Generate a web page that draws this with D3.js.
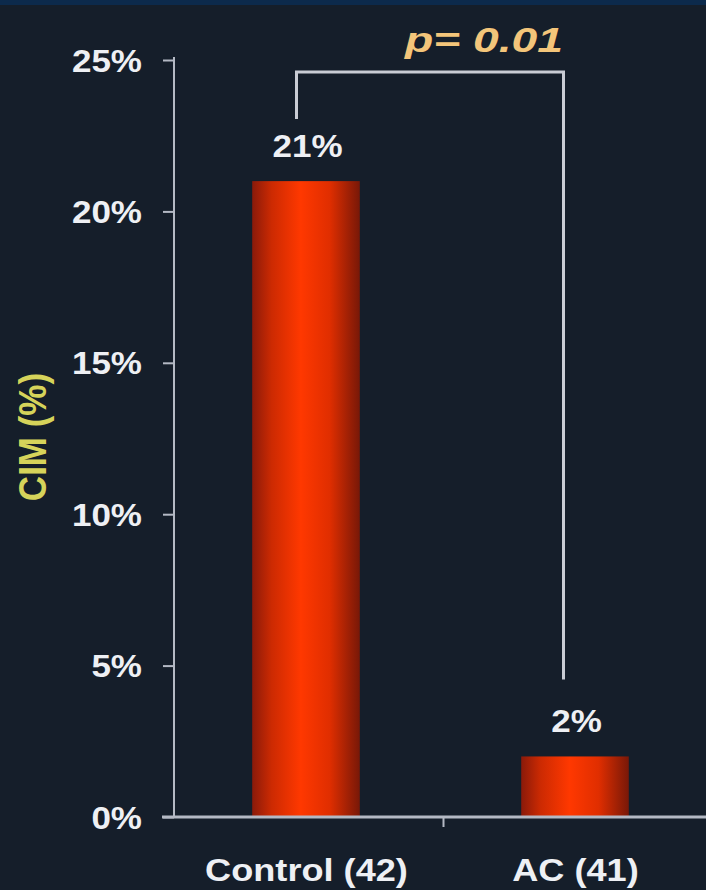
<!DOCTYPE html>
<html>
<head>
<meta charset="utf-8">
<script src="https://cdn.jsdelivr.net/npm/d3@7"></script>
<style>
  html, body { margin: 0; padding: 0; background: #151e2a; }
  svg { display: block; }
</style>
</head>
<body>
<svg id="chart" width="706" height="890"></svg>
<script>
// Chart data
const categories = ["Control (42)", "AC (41)"];
const values = [21, 2];
const valueLabels = ["21%", "2%"];
const yTicks = [0, 5, 10, 15, 20, 25];
const yTickLabels = ["0%", "5%", "10%", "15%", "20%", "25%"];
const pLabel = "p= 0.01";
const yTitle = "CIM (%)";

const W = 706, H = 890;
const SX = 1.13; // wide lettering
const svg = d3.select("#chart");

// background
svg.append("rect").attr("width", W).attr("height", H).attr("fill", "#151e2a");
svg.append("rect").attr("width", W).attr("height", 5).attr("fill", "#0c2a4c");

const defs = svg.append("defs");
const grad = defs.append("linearGradient").attr("id", "barGrad")
  .attr("x1", "0%").attr("x2", "100%").attr("y1", "0%").attr("y2", "0%");
grad.append("stop").attr("offset", "0%").attr("stop-color", "#8a1a0a");
grad.append("stop").attr("offset", "18%").attr("stop-color", "#cc2a02");
grad.append("stop").attr("offset", "45%").attr("stop-color", "#ff3800");
grad.append("stop").attr("offset", "72%").attr("stop-color", "#e02e00");
grad.append("stop").attr("offset", "100%").attr("stop-color", "#781808");

const x = d3.scaleBand().domain(categories).range([174, 712]).padding(0);
const y = d3.scaleLinear().domain([0, 25]).range([817, 60]);

const axisColor = "#b4b9c4";
const font = "'Liberation Sans', Arial, sans-serif";

// text drawn with a horizontal stretch around its anchor point
function wideText(parent, tx, ty, str, opts) {
  const g = parent.append("g").attr("transform", `translate(${tx},${ty}) scale(${opts.sx || SX},1)`);
  const t = g.append("text")
    .attr("text-anchor", opts.anchor || "middle")
    .attr("fill", opts.fill || "#eef0f4")
    .style("font-family", font).style("font-weight", "bold")
    .style("font-size", (opts.size || 31) + "px")
    .text(str);
  if (opts.italic) t.style("font-style", "italic");
  return t;
}

// bars
const barFrac = 0.40;
svg.selectAll("rect.bar").data(values).enter().append("rect")
  .attr("class", "bar")
  .attr("x", (d, i) => x(categories[i]) + x.bandwidth() * (1 - barFrac) / 2 - 2.5)
  .attr("width", x.bandwidth() * barFrac)
  .attr("y", d => y(d))
  .attr("height", d => y(0) - y(d))
  .attr("fill", "url(#barGrad)");

// y axis
const yAxis = d3.axisLeft(y).tickValues(yTicks)
  .tickFormat((d, i) => yTickLabels[i]).tickSize(11).tickPadding(0);
const gy = svg.append("g").attr("transform", "translate(174,0)").call(yAxis);
gy.select(".domain").attr("stroke", axisColor).attr("stroke-width", 2)
  .attr("d", `M0,${y(25) - 3}V${y(0)}`);
gy.selectAll(".tick line").attr("stroke", axisColor).attr("stroke-width", 2);
gy.selectAll(".tick text").attr("fill", "#eef0f4")
  .attr("x", -32 / SX)
  .attr("transform", `scale(${SX},1)`)
  .style("font-family", font).style("font-weight", "bold").style("font-size", "31px")
  .attr("dy", "0.36em");

// x axis
const xAxis = d3.axisBottom(x).tickValues([categories[1]]).tickFormat(() => "")
  .tickSize(10);
const gx = svg.append("g").attr("transform", `translate(0,${y(0)})`).call(xAxis);
gx.select(".domain").attr("stroke", axisColor).attr("stroke-width", 3)
  .attr("d", `M162,0H712`);
gx.selectAll(".tick line").attr("stroke", axisColor).attr("stroke-width", 2)
  .attr("transform", `translate(${-x.bandwidth() / 2 + 0.5},0)`);

// category labels
categories.forEach(c => {
  wideText(svg, x(c) + x.bandwidth() / 2 - 2, 881, c, { size: 32 });
});

// value labels
values.forEach((v, i) => {
  wideText(svg, x(categories[i]) + x.bandwidth() / 2 - 1, y(v) - 24, valueLabels[i], { size: 31 });
});

// significance bracket
const xL = x(categories[0]) + x.bandwidth() / 2 - 12;
const xR = x(categories[1]) + x.bandwidth() / 2 - 14;
svg.append("path")
  .attr("d", `M${xL},${y(values[0]) - 62}V72H${xR}V${y(values[1]) - 77}`)
  .attr("fill", "none").attr("stroke", "#c9ccd4").attr("stroke-width", 3);

svg.append("text")
  .attr("x", 405)
  .attr("y", 52)
  .attr("textLength", 158)
  .attr("lengthAdjust", "spacingAndGlyphs")
  .attr("fill", "#f3c57a")
  .style("font-family", font).style("font-weight", "bold")
  .style("font-style", "italic").style("font-size", "35px")
  .text(pLabel);

// y title
svg.append("g")
  .attr("transform", "translate(46,437) rotate(-90) scale(1,1.1)")
  .append("text")
  .attr("text-anchor", "middle")
  .attr("fill", "#d6d35a")
  .style("font-family", font).style("font-weight", "bold").style("font-size", "35px")
  .text(yTitle);
</script>
</body>
</html>
